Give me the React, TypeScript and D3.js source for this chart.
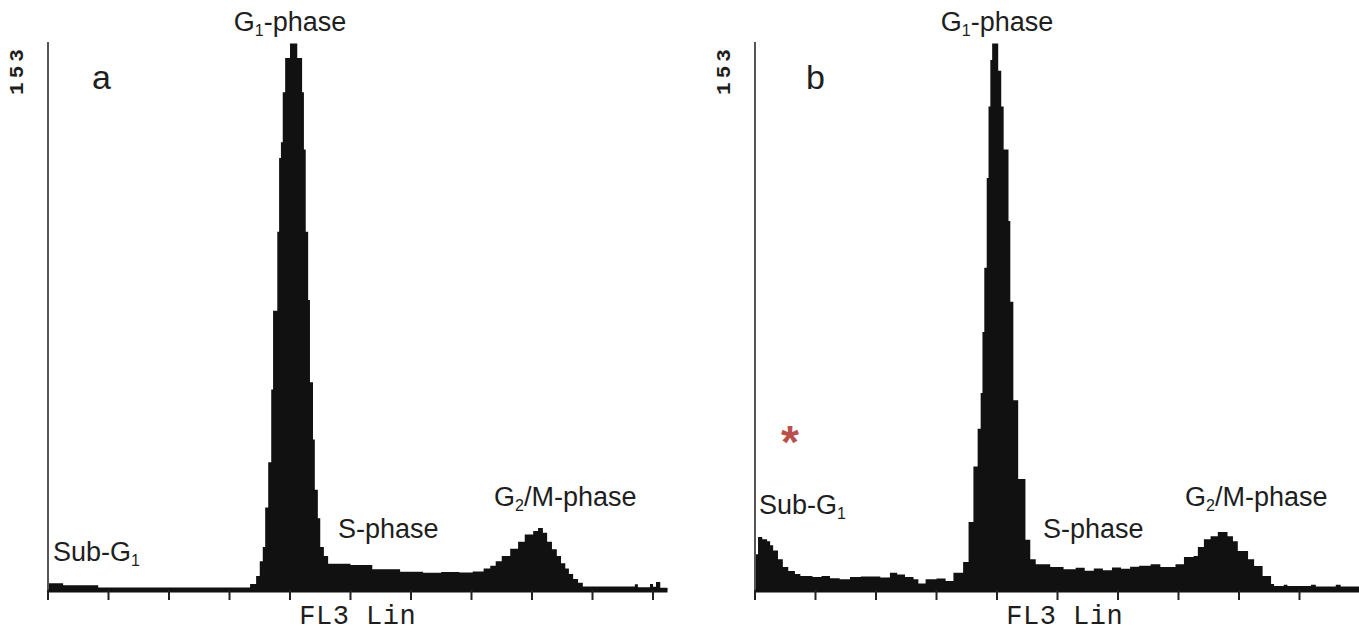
import React from "react";
import * as d3 from "d3";

// FL3 Lin histograms, [channel, count] steps (step-after)
const histA: [number, number][] = [
  [0, 1.9], [25, 1.3], [83, 0.7], [334, 1.7], [344, 3.9], [350, 8], [355, 12],
  [359, 23], [364, 35.7], [369, 56], [372, 78], [379, 100], [382, 120.6],
  [385, 125], [388, 139], [392, 148.5], [400, 152.6], [412, 148.5], [420, 139],
  [423, 123], [426, 100], [430, 81], [433, 58], [438, 42], [441, 28], [446, 20],
  [450, 12], [456, 9.5], [463, 7.3], [500, 7.0], [536, 5.8], [582, 5.1],
  [620, 4.8], [650, 5.0], [680, 4.9], [702, 5.2], [720, 6], [731, 6.8],
  [740, 8], [750, 9.5], [764, 11.5], [777, 13.5], [788, 15.5], [802, 16.5],
  [810, 17.3], [818, 16], [825, 13.5], [833, 11.4], [841, 9.5], [848, 7.5],
  [855, 6], [861, 4.5], [868, 3.1], [876, 2], [884, 1.0], [970, 1.6],
  [975, 0.8], [995, 1.7], [1000, 0.9], [1005, 2.2], [1012, 0.6],
];

const histB: [number, number][] = [
  [0, 10], [5, 14.8], [12, 14.2], [20, 13.6], [25, 12.5], [30, 11], [38, 8.6],
  [46, 6.4], [55, 5.3], [66, 4.5], [75, 3.9], [95, 3.6], [110, 3.9], [124, 3.3],
  [140, 3.0], [157, 3.6], [175, 3.8], [207, 3.5], [223, 4.8], [235, 4.3],
  [248, 3.6], [262, 3.0], [270, 1.8], [282, 3.0], [300, 3.2], [315, 2.5],
  [328, 4.8], [344, 7.8], [353, 19], [361, 34.5], [368, 45], [373, 55],
  [376, 72], [379, 90], [383, 115], [386, 135], [389, 148], [392, 152.6],
  [402, 145], [407, 135], [411, 123], [419, 103], [422, 80.5], [427, 53],
  [435, 31], [447, 14], [455, 8.6], [464, 7.2], [488, 6.4], [510, 5.8],
  [530, 6.2], [545, 5.4], [560, 6.0], [575, 5.5], [590, 6.3], [605, 5.9],
  [620, 6.5], [635, 6.8], [654, 7.2], [670, 6.4], [695, 7.2], [709, 9.2],
  [725, 9.5], [732, 12], [742, 14.2], [753, 15], [765, 16.2], [781, 15],
  [790, 13.6], [798, 10.9], [815, 8.6], [825, 6.7], [839, 3.9], [853, 1.7],
  [858, 1.1], [874, 1.5], [880, 1.1], [919, 1.5], [927, 1.0], [960, 1.5],
  [968, 1.0],
];

const X_MAX = 1024;
const Y_MAX = 153;
const X_TICKS = d3.range(0, 1001, 100);
const X_LABEL = "FL3 Lin";

const PANELS = [
  { id: "a", left: 48, hist: histA, letter: "a", letterX: 92, star: false,
    subG1: { x: 53, y: 561 }, s: { x: 338, y: 538 }, g2: { x: 494, y: 506 } },
  { id: "b", left: 755, hist: histB, letter: "b", letterX: 806, star: true,
    subG1: { x: 759, y: 514 }, s: { x: 1043, y: 538 }, g2: { x: 1185, y: 506 } },
];

const SANS = "'Liberation Sans', Arial, sans-serif";
const MONO = "'Liberation Mono', 'Courier New', monospace";
const INK = "#1e1e1e";

function Panel({ p }: { p: (typeof PANELS)[number] }) {
  const x = d3.scaleLinear().domain([0, X_MAX]).range([p.left, p.left + X_MAX * 0.605]);
  const y = d3.scaleLinear().domain([0, Y_MAX]).range([590, 42]);
  const pts = [...p.hist, [X_MAX, p.hist[p.hist.length - 1][1]] as [number, number]];
  const area = d3.area<[number, number]>()
    .x((d) => x(d[0])).y0(y(0)).y1((d) => y(d[1]))
    .curve(d3.curveStepAfter);
  const fs = 27;
  const sub = (t: string) => (
    <tspan fontSize={16} dy={5}>{t}</tspan>
  );
  return (
    <g>
      <path d={area(pts) ?? ""} fill="#111" />
      <line x1={x(0)} x2={x(0)} y1={y(0)} y2={y(Y_MAX)} stroke="#555" strokeWidth={2} />
      <line x1={x(0)} x2={x(X_MAX)} y1={y(0) + 1} y2={y(0) + 1} stroke="#111" strokeWidth={3} />
      {X_TICKS.map((t) => (
        <line key={t} x1={x(t)} x2={x(t)} y1={y(0)} y2={y(0) + 10} stroke="#222" strokeWidth={2} />
      ))}
      <text x={x(512)} y={624} textAnchor="middle" fontFamily={MONO} fontSize={27}
        letterSpacing={0.5} fill={INK}>{X_LABEL}</text>
      <text transform={`translate(${p.left - 25},70) rotate(-90)`} textAnchor="middle"
        fontFamily={MONO} fontWeight="bold" fontSize={21} letterSpacing={4} fill={INK}>{Y_MAX}</text>
      <text x={p.letterX} y={89} fontFamily={SANS} fontSize={34} fill={INK}>{p.letter}</text>
      <text x={x(400)} y={31} textAnchor="middle" fontFamily={SANS} fontSize={fs} fill={INK}>
        G{sub("1")}<tspan dy={-5}>-phase</tspan>
      </text>
      <text x={p.subG1.x} y={p.subG1.y} fontFamily={SANS} fontSize={fs} fill={INK}>
        Sub-G{sub("1")}
      </text>
      <text x={p.s.x} y={p.s.y} fontFamily={SANS} fontSize={fs} fill={INK}>S-phase</text>
      <text x={p.g2.x} y={p.g2.y} fontFamily={SANS} fontSize={fs} fill={INK}>
        G{sub("2")}<tspan dy={-5}>/M-phase</tspan>
      </text>
      {p.star && (
        <text x={790} y={458} textAnchor="middle" fontFamily={SANS} fontWeight="bold"
          fontSize={46} fill="#b9504b">*</text>
      )}
    </g>
  );
}

export default function App() {
  return (
    <svg width={1359} height={632} style={{ position: "fixed", left: 0, top: 0, background: "#fff" }}>
      {PANELS.map((p) => <Panel key={p.id} p={p} />)}
    </svg>
  );
}
